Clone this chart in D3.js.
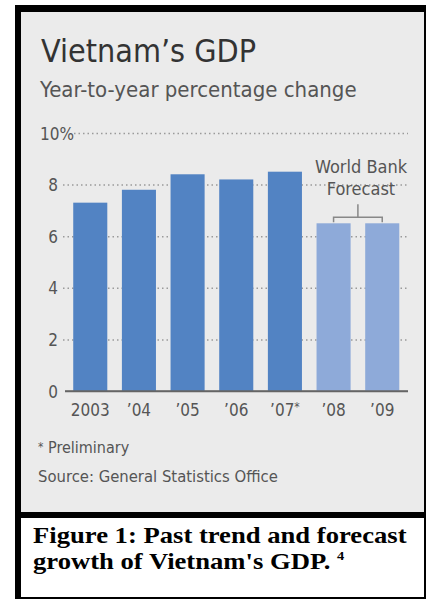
<!DOCTYPE html>
<html lang="en">
<head>
<meta charset="utf-8">
<title>Vietnam's GDP</title>
<script src="https://d3js.org/d3.v7.min.js"></script>
<style>
  body { margin: 0; background: #fff; }
  svg { display: block; }
  .chart text { font-family: "DejaVu Sans Condensed", "DejaVu Sans", sans-serif; }
  .grid .domain { display: none; }
  .grid line { stroke: #9a9a9a; stroke-width: 1.5; stroke-dasharray: 1.5 3; }
  .grid text { fill: #555; font-size: 17px; }
  .xaxis .domain { display: none; }
  .xaxis line { display: none; }
  .xaxis text { fill: #555; font-size: 17px; }
  .caption text { font-family: "Liberation Serif", "Times New Roman", serif; font-weight: bold; font-size: 24px; fill: #000; }
</style>
</head>
<body>
<script>
// values
var years = ["2003", "\u201904", "\u201905", "\u201906", "\u201907*", "\u201908", "\u201909"];
var growth = [7.3, 7.8, 8.4, 8.2, 8.5, 6.5, 6.5];
var isForecast = [false, false, false, false, false, true, true];
var yTicks = [0, 2, 4, 6, 8, 10];

var width = 428, height = 601;

var svg = d3.select("body").append("svg")
  .attr("width", width)
  .attr("height", height);

// frame: heavy black edge on left/top, thin on right/bottom
svg.append("rect").attr("x", 15).attr("y", 5).attr("width", 411).attr("height", 594).attr("fill", "#000");
svg.append("rect").attr("x", 21).attr("y", 12).attr("width", 403).attr("height", 500).attr("fill", "#ebebeb");
svg.append("rect").attr("x", 21).attr("y", 518).attr("width", 403).attr("height", 79).attr("fill", "#fff");

var chart = svg.append("g").attr("class", "chart");

// scales
var x = d3.scaleBand()
  .domain(years)
  .range([63.5, 409])
  .paddingInner(0.3)
  .paddingOuter(0.2);

var y = d3.scaleLinear()
  .domain([0, 10])
  .range([391, 133]);

// titles
chart.append("text")
  .attr("x", 41).attr("y", 62)
  .attr("font-size", 32)
  .attr("fill", "#333")
  .text("Vietnam\u2019s GDP");

chart.append("text")
  .attr("x", 40).attr("y", 97)
  .attr("font-size", 22)
  .attr("fill", "#555")
  .text("Year-to-year percentage change");

// gridlines + y labels
var yAxis = d3.axisLeft(y)
  .tickValues(yTicks)
  .tickSize(-345)
  .tickPadding(5)
  .tickFormat(function(d) { return d == 10 ? "10%" : d; });

var grid = chart.append("g")
  .attr("class", "grid")
  .attr("transform", "translate(63,0)")
  .call(yAxis);

grid.selectAll(".tick text").attr("dy", "0.36em");

// the top label hangs its % sign past the axis
grid.selectAll(".tick").filter(function(d) { return d == 10; })
  .each(function() {
    var t = d3.select(this);
    t.select("text").attr("text-anchor", "start").attr("x", -23);
    t.select("line").attr("x1", 11);
  });

// zero line is solid
grid.selectAll(".tick").filter(function(d) { return d == 0; })
  .select("line")
  .attr("x1", 2)
  .style("stroke", "#666")
  .style("stroke-dasharray", "none")
  .style("stroke-width", 1.6);

// bars
chart.selectAll(".bar")
  .data(years)
  .enter().append("rect")
  .attr("class", "bar")
  .attr("x", function(d) { return x(d); })
  .attr("width", x.bandwidth())
  .attr("y", function(d, i) { return y(growth[i]); })
  .attr("height", function(d, i) { return y(0) - y(growth[i]); })
  .attr("fill", function(d, i) { return isForecast[i] ? "#8eaad9" : "#5283c3"; });

// redraw the zero line over the bars
chart.append("line")
  .attr("x1", 65).attr("x2", 408)
  .attr("y1", y(0)).attr("y2", y(0))
  .attr("stroke", "#666").attr("stroke-width", 1.6);

// x labels
var xAxis = d3.axisBottom(x).tickSize(0).tickFormat(function(d) { return d.replace("*", ""); });
var xg = chart.append("g")
  .attr("class", "xaxis")
  .attr("transform", "translate(0," + y(0) + ")")
  .call(xAxis);

xg.selectAll(".tick text")
  .attr("y", 25).attr("dy", 0)
  .each(function(d) {
    if (d.indexOf("*") >= 0) {
      d3.select(this).append("tspan")
        .attr("font-size", 12)
        .attr("dy", -5)
        .text("*");
    }
  });

// forecast note and bracket
var fc = years.filter(function(d, i) { return isForecast[i]; });
var bx1 = x(fc[0]) + x.bandwidth() / 2;
var bx2 = x(fc[fc.length - 1]) + x.bandwidth() / 2;
var bmid = (bx1 + bx2) / 2;
var btop = y(d3.max(growth.filter(function(d, i) { return isForecast[i]; })));

chart.append("path")
  .attr("d", "M" + bx1 + "," + (btop - 1) + "V" + (btop - 6) + "H" + bx2 + "V" + (btop - 1)
    + "M" + bmid + "," + (btop - 6) + "V" + (btop - 19))
  .attr("fill", "none")
  .attr("stroke", "#888")
  .attr("stroke-width", 1.5);

var note = chart.append("text")
  .attr("text-anchor", "middle")
  .attr("font-size", 18)
  .attr("fill", "#555");
note.append("tspan").attr("x", 361).attr("y", 173).text("World Bank");
note.append("tspan").attr("x", 361).attr("y", 195).text("Forecast");

// footnotes
var pre = chart.append("text")
  .attr("x", 38).attr("y", 453)
  .attr("font-size", 16)
  .attr("fill", "#555");
pre.append("tspan").attr("font-size", 12).attr("dy", -2).text("*");
pre.append("tspan").attr("dy", 2).text(" Preliminary");

chart.append("text")
  .attr("x", 38).attr("y", 482)
  .attr("font-size", 16.5)
  .attr("fill", "#555")
  .text("Source: General Statistics Office");

// figure caption
var cap = svg.append("g")
  .attr("class", "caption")
  .attr("transform", "translate(33,0) scale(1.11,1)");

cap.append("text").attr("x", 0).attr("y", 543).text("Figure 1: Past trend and forecast");
var l2 = cap.append("text").attr("x", 0).attr("y", 569).text("growth of Vietnam's GDP. ");
l2.append("tspan").attr("font-size", 13).attr("dy", -9).text("4");
</script>
</body>
</html>
